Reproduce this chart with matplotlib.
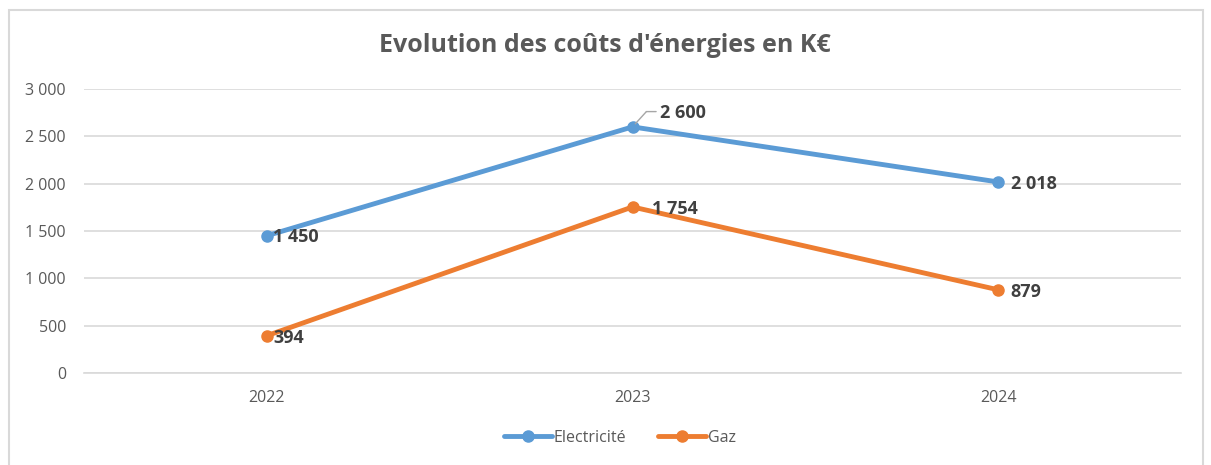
import matplotlib
matplotlib.use("Agg")
import matplotlib.pyplot as plt
from matplotlib.patches import Rectangle
from matplotlib.ticker import FuncFormatter
from matplotlib.transforms import offset_copy

years = ["2022", "2023", "2024"]
electricite = [1450, 2600, 2018]
gaz = [394, 1754, 879]
series_names = ["Electricité", "Gaz"]
yticks = [0, 500, 1000, 1500, 2000, 2500, 3000]

plt.rcParams['font.family'] = ['Open Sans', 'DejaVu Sans']

W, H = 1211, 465
fig = plt.figure(figsize=(W / 100, H / 100), dpi=100)
ax = fig.add_axes([84 / W, 1 - 373 / H, (1181 - 84) / W, (373 - 89) / H])

blue = "#5B9BD5"
orange = "#ED7D31"
x = list(range(len(years)))

ax.plot(x, electricite, color=blue, lw=3.5, marker="o", ms=8, label=series_names[0],
        solid_capstyle="round", zorder=3)
ax.plot(x, gaz, color=orange, lw=3.5, marker="o", ms=8, label=series_names[1],
        solid_capstyle="round", zorder=3)

ax.set_xlim(-0.5, 2.5)
ax.set_ylim(0, 3000)
ax.set_yticks(yticks)
ax.yaxis.set_major_formatter(FuncFormatter(lambda v, p: f"{int(v):,}".replace(",", " ")))
ax.set_xticks(x)
ax.set_xticklabels(years)
ax.grid(axis="y", color="#d9d9d9", lw=1.2)
ax.set_axisbelow(True)
for s in ["top", "right", "left"]:
    ax.spines[s].set_visible(False)
ax.spines["bottom"].set_color("#d9d9d9")
ax.spines["bottom"].set_linewidth(1.2)
ax.tick_params(axis="both", length=0, colors="#595959", labelsize=11.5)
ax.tick_params(axis="y", pad=13)
ax.tick_params(axis="x", pad=12)

def fmt(v):
    return f"{v:,}".replace(",", " ")

lab_kw = dict(fontsize=13, fontweight="bold", color="#404040", va="center", ha="left",
              textcoords="offset points")
offsets_e = [(4.5, -1), None, (9, -1.5)]
offsets_g = [(5, -1.5), (14, -1.5), (9, -1.5)]
for i, v in enumerate(electricite):
    if offsets_e[i] is None:
        ax.annotate(fmt(v), (i, v), xytext=(20, 10), **lab_kw)
        ax.annotate("", (i, v), xytext=(10, 11), textcoords="offset points",
                    arrowprops=dict(arrowstyle="-", color="#a6a6a6", lw=1,
                                    shrinkA=0, shrinkB=3))
    else:
        ax.annotate(fmt(v), (i, v), xytext=offsets_e[i], **lab_kw)
for i, v in enumerate(gaz):
    ax.annotate(fmt(v), (i, v), xytext=offsets_g[i], **lab_kw)

# horizontal part of leader line
tr = offset_copy(ax.transData, fig=fig, x=10, y=11, units="points")
tr2 = offset_copy(ax.transData, fig=fig, x=17, y=11, units="points")
ax.annotate("", xy=(1, electricite[1]), xycoords=tr2, xytext=(1, electricite[1]),
            textcoords=tr, arrowprops=dict(arrowstyle="-", color="#a6a6a6", lw=1,
                                           shrinkA=0, shrinkB=0))

fig.text(605 / W, 1 - 45 / H, "Evolution des coûts d'énergies en K€", ha="center",
         va="center", fontsize=18, fontweight="bold", color="#595959")

fig.legend(loc="center", bbox_to_anchor=(620 / W, 1 - 438 / H), ncol=2, frameon=False,
           fontsize=11.5, labelcolor="#595959", handlelength=3.0, handletextpad=0.1,
           columnspacing=2.0)

fig.patches.append(Rectangle((9 / W, -0.2), (1203 - 9) / W, 1.2 - 10 / H,
                             transform=fig.transFigure, fill=False,
                             edgecolor="#d9d9d9", lw=1.5))

fig.savefig("out.png", dpi=100)
